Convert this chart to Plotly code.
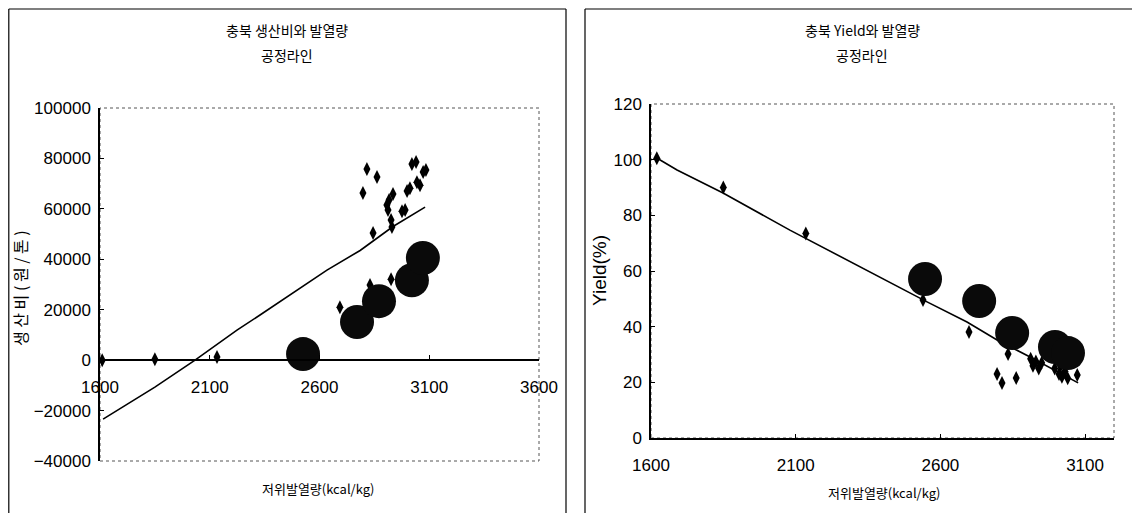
import plotly.graph_objects as go

# page body has an 8px default margin; the figure is sized to fit the 1140x513 window
OFF = 8
W, H = 1140 - OFF, 513 - OFF

# ---------------- data ----------------
# Left chart: production cost vs lower heating value
cost_pts_x = [1610, 1850, 2133, 2693, 2830, 2926, 2816, 2862, 2798, 2844,
              2935, 2917, 2912, 2926, 2930, 2907, 2976, 2990, 2999, 3012,
              3021, 3040, 3044, 3058, 3072, 3085]
cost_pts_y = [0, 400, 1200, 21000, 29800, 32100, 75800, 72600, 66300, 50400,
              65900, 63500, 59500, 55600, 52800, 61500, 59100, 59500, 67100, 68200,
              77800, 78600, 70600, 69400, 74600, 75400]
cost_bub_x = [2525, 2771, 2871, 3021, 3071]
cost_bub_y = [2400, 15100, 23400, 31700, 40500]
cost_trend_x = [1614, 1850, 2033, 2224, 2329, 2634, 2785, 2935, 3081]
cost_trend_y = [-23400, -10700, 0, 11900, 17900, 35700, 43500, 53000, 60700]

# Right chart: yield vs lower heating value
yield_pts_x = [1620, 1850, 2135, 2540, 2699, 2834, 2796, 2813, 2862,
               2912, 2920, 2930, 2940, 2950, 2995, 3010, 3020, 3030, 3040, 3015, 3073]
yield_pts_y = [100.5, 90, 73.5, 49.6, 38.1, 30.2, 23, 19.8, 21.6,
               28.5, 26, 27.5, 25, 27, 25, 23, 22, 24, 21.5, 26, 22.6]
yield_bub_x = [2547, 2734, 2848, 2996, 3041]
yield_bub_y = [57.1, 49.2, 37.7, 32.7, 30.5]
yield_trend_x = [1620, 1690, 1849, 2080, 2554, 2692, 2796, 2910, 3076]
yield_trend_y = [100.6, 96.3, 88, 74.7, 48.9, 41.7, 35.2, 29.1, 19.8]

x_ticks_left = [1600, 2100, 2600, 3100, 3600]
y_ticks_left = [-40000, -20000, 0, 20000, 40000, 60000, 80000, 100000]
x_ticks_right = [1600, 2100, 2600, 3100]
y_ticks_right = [0, 20, 40, 60, 80, 100, 120]

title_left = ["충북 생산비와 발열량", "공정라인"]
title_right = ["충북 Yield와 발열량", "공정라인"]
xtitle = "저위발열량(kcal/kg)"
ytitle_left = "생 산 비 ( 원 / 톤 )"
ytitle_right = "Yield(%)"

# ---------------- layout helpers (window pixel -> paper) ----------------
def px(x):
    return (x - OFF) / W

def py(y):
    return 1 - (y - OFF) / H

TICKFONT = dict(family="Liberation Sans Narrow, Liberation Sans, Arial, sans-serif", size=17, color="black")
KFONT = "Noto Sans CJK KR"

L_X = [px(100), px(539)]
L_Y = [py(461), py(108)]
R_X = [px(651), px(1114)]
R_Y = [py(438), py(104)]

fig = go.Figure()

diamond = dict(symbol="diamond-tall", size=10, color="black")
bubble = dict(symbol="circle", size=34, color="#0a0a0a", line=dict(width=0))
trend = dict(color="black", width=1.6)

# left
fig.add_trace(go.Scatter(x=cost_pts_x, y=cost_pts_y, mode="markers", marker=diamond,
                         xaxis="x", yaxis="y", showlegend=False))
fig.add_trace(go.Scatter(x=cost_trend_x, y=cost_trend_y, mode="lines", line=trend,
                         xaxis="x", yaxis="y", showlegend=False))
fig.add_trace(go.Scatter(x=cost_bub_x, y=cost_bub_y, mode="markers", marker=bubble,
                         xaxis="x", yaxis="y", showlegend=False))
# right
fig.add_trace(go.Scatter(x=yield_pts_x, y=yield_pts_y, mode="markers", marker=diamond,
                         xaxis="x2", yaxis="y2", showlegend=False))
fig.add_trace(go.Scatter(x=yield_trend_x, y=yield_trend_y, mode="lines", line=trend,
                         xaxis="x2", yaxis="y2", showlegend=False))
fig.add_trace(go.Scatter(x=yield_bub_x, y=yield_bub_y, mode="markers", marker=bubble,
                         xaxis="x2", yaxis="y2", showlegend=False))

zero_pos = L_Y[0] + (0 - (-40000)) / 140000 * (L_Y[1] - L_Y[0])

common_axis = dict(showgrid=False, zeroline=False, showline=True, linecolor="black",
                   linewidth=1.5, ticks="inside", ticklen=4, tickcolor="black",
                   tickfont=TICKFONT, automargin=False, tickformat="d")

fig.update_layout(
    width=W, height=H,
    margin=dict(l=0, r=0, t=0, b=0, pad=0),
    paper_bgcolor="white", plot_bgcolor="rgba(0,0,0,0)",
    xaxis=dict(domain=L_X, range=[1600, 3600], tickvals=x_ticks_left,
               anchor="free", position=zero_pos, ticklabelstandoff=12, **common_axis),
    yaxis=dict(domain=L_Y, range=[-40000, 100000], tickvals=y_ticks_left,
               anchor="x", ticklabelstandoff=4, **common_axis),
    xaxis2=dict(domain=R_X, range=[1600, 3200], tickvals=x_ticks_right,
                anchor="y2", ticklabelstandoff=11, **common_axis),
    yaxis2=dict(domain=R_Y, range=[0, 120], tickvals=y_ticks_right,
                anchor="x2", ticklabelstandoff=4, **common_axis),
)

shapes = []
# dotted plot-area borders
for xd, yd in [(L_X, L_Y), (R_X, R_Y)]:
    shapes.append(dict(type="rect", xref="paper", yref="paper",
                       x0=xd[0], x1=xd[1], y0=yd[0], y1=yd[1],
                       line=dict(color="#555555", width=1, dash="dot"), layer="below"))
# outer chart frames (left, top, right edges)
for x0, x1 in [(8.8, 566), (585, 1138.5)]:
    shapes.append(dict(type="line", xref="paper", yref="paper",
                       x0=px(x0), x1=px(x0), y0=0, y1=py(9), line=dict(color="black", width=1.2)))
    shapes.append(dict(type="line", xref="paper", yref="paper",
                       x0=px(x1), x1=px(x1), y0=0, y1=py(9), line=dict(color="black", width=1.2)))
    shapes.append(dict(type="line", xref="paper", yref="paper",
                       x0=px(x0), x1=px(x1), y0=py(9), y1=py(9), line=dict(color="black", width=1.2)))
fig.update_layout(shapes=shapes)

ann = []
def text(x, y, s, size=14, angle=0, family=KFONT):
    ann.append(dict(x=px(x), y=py(y), xref="paper", yref="paper", text=s, showarrow=False,
                    textangle=angle, font=dict(family=family, size=size, color="black"),
                    xanchor="center", yanchor="middle"))

text(287, 30, title_left[0])
text(287, 55, title_left[1])
text(862, 30, title_right[0])
text(862, 55, title_right[1])
text(318, 488, xtitle, size=13)
text(884, 492, xtitle, size=13)
text(20, 288, ytitle_left, size=16, angle=-90)
text(599, 271, ytitle_right, size=19, angle=-90,
     family="Liberation Sans, Arial, sans-serif")
fig.update_layout(annotations=ann)

fig.write_html("out.html")
